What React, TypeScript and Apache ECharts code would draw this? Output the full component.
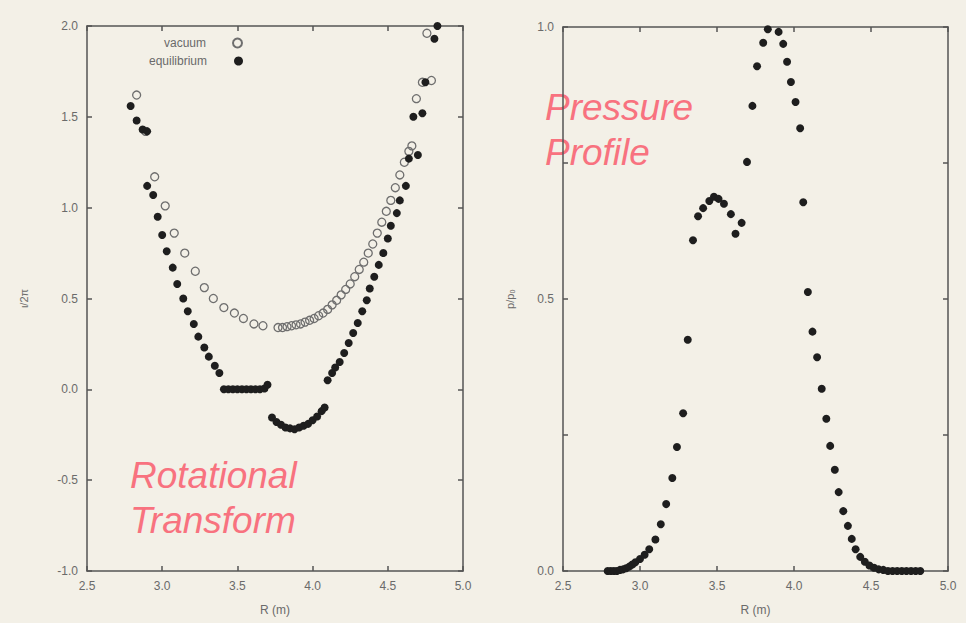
import React, { useEffect, useRef } from "react";
import * as echarts from "echarts";

// ---- data ----
const xTicksR = [2.5, 3.0, 3.5, 4.0, 4.5, 5.0];

const vacuumPoints: number[][] = [
  [2.83, 1.62], [2.89, 1.42], [2.95, 1.17], [3.02, 1.01], [3.08, 0.86], [3.15, 0.75],
  [3.22, 0.65], [3.28, 0.56], [3.34, 0.5], [3.41, 0.45], [3.48, 0.42], [3.54, 0.39],
  [3.61, 0.36], [3.67, 0.35],
  [3.77, 0.34], [3.8, 0.34], [3.83, 0.345], [3.86, 0.35], [3.89, 0.355], [3.92, 0.36],
  [3.95, 0.37], [3.98, 0.38], [4.01, 0.39], [4.04, 0.405], [4.07, 0.42], [4.1, 0.44],
  [4.13, 0.465], [4.16, 0.49], [4.19, 0.52], [4.22, 0.55], [4.25, 0.58], [4.28, 0.62],
  [4.31, 0.66], [4.34, 0.7], [4.37, 0.75], [4.4, 0.8], [4.43, 0.86], [4.46, 0.92],
  [4.49, 0.98], [4.52, 1.04], [4.55, 1.11], [4.58, 1.18], [4.61, 1.25], [4.64, 1.31],
  [4.66, 1.34], [4.69, 1.6], [4.73, 1.69], [4.79, 1.7], [4.76, 1.96],
];

const equilibriumPoints: number[][] = [
  [2.79, 1.56], [2.83, 1.48], [2.87, 1.43], [2.9, 1.42], [2.9, 1.12], [2.94, 1.07],
  [2.97, 0.95], [3.0, 0.85], [3.03, 0.76], [3.07, 0.67], [3.1, 0.58], [3.14, 0.5],
  [3.17, 0.43], [3.21, 0.36], [3.24, 0.29], [3.28, 0.23], [3.31, 0.18], [3.35, 0.13],
  [3.38, 0.09],
  [3.41, 0], [3.44, 0], [3.47, 0], [3.5, 0], [3.53, 0], [3.56, 0], [3.59, 0], [3.62, 0],
  [3.65, 0], [3.68, 0.005], [3.7, 0.025],
  [3.73, -0.155], [3.76, -0.18], [3.79, -0.195], [3.82, -0.21], [3.85, -0.215],
  [3.88, -0.22], [3.91, -0.21], [3.94, -0.2], [3.97, -0.19], [4.0, -0.17], [4.03, -0.15],
  [4.06, -0.12], [4.08, -0.1],
  [4.1, 0.05], [4.13, 0.09], [4.15, 0.12], [4.18, 0.15], [4.21, 0.2], [4.24, 0.255],
  [4.27, 0.31], [4.3, 0.365], [4.33, 0.43], [4.36, 0.49], [4.38, 0.555], [4.41, 0.62],
  [4.44, 0.685], [4.47, 0.75], [4.5, 0.83], [4.52, 0.9], [4.56, 0.97], [4.58, 1.04],
  [4.62, 1.12], [4.64, 1.27], [4.7, 1.29], [4.67, 1.5], [4.73, 1.52], [4.75, 1.69],
  [4.81, 1.93], [4.83, 2.0],
];

const pressurePoints: number[][] = [
  [2.79, 0], [2.81, 0], [2.83, 0], [2.85, 0], [2.87, 0.002], [2.89, 0.003], [2.91, 0.005],
  [2.93, 0.008], [2.95, 0.012], [2.97, 0.016], [3.0, 0.022], [3.03, 0.03], [3.06, 0.04],
  [3.1, 0.058], [3.135, 0.086], [3.17, 0.123], [3.21, 0.171], [3.24, 0.228], [3.28, 0.29],
  [3.31, 0.425], [3.344, 0.608], [3.377, 0.652], [3.41, 0.667], [3.45, 0.68], [3.48, 0.688],
  [3.51, 0.684], [3.545, 0.675], [3.59, 0.656], [3.62, 0.62], [3.66, 0.64], [3.695, 0.752],
  [3.73, 0.855], [3.76, 0.928], [3.8, 0.971], [3.83, 0.996], [3.9, 0.991], [3.93, 0.969],
  [3.955, 0.936], [3.98, 0.899], [4.01, 0.862], [4.04, 0.814], [4.06, 0.678], [4.09, 0.513],
  [4.12, 0.44], [4.15, 0.393], [4.18, 0.335], [4.21, 0.28], [4.235, 0.23], [4.265, 0.186],
  [4.29, 0.145], [4.32, 0.11], [4.35, 0.083], [4.375, 0.059], [4.4, 0.04], [4.43, 0.026],
  [4.46, 0.017], [4.49, 0.01], [4.52, 0.006], [4.55, 0.003], [4.58, 0.002], [4.61, 0],
  [4.64, 0], [4.67, 0], [4.7, 0], [4.73, 0], [4.76, 0], [4.79, 0], [4.82, 0],
];

const yTicksIota = [-1.0, -0.5, 0.0, 0.5, 1.0, 1.5, 2.0];
const yLabelsPressure = [0.0, 0.5, 1.0];

const FONT = "'Liberation Sans', Arial, sans-serif";
const AXIS_COLOR = "#555";
const LABEL_COLOR = "#6a6a6a";
const PINK = "#f8727f";

function makeX(gridIndex: number, position: "bottom" | "top", showLabel: boolean) {
  return {
    type: "value",
    gridIndex,
    position,
    min: xTicksR[0],
    max: xTicksR[xTicksR.length - 1],
    interval: 0.5,
    name: showLabel ? "R (m)" : "",
    nameLocation: "middle",
    nameGap: 33,
    nameTextStyle: { color: LABEL_COLOR, fontSize: 12, fontFamily: FONT },
    axisLine: { show: true, onZero: false, lineStyle: { color: AXIS_COLOR, width: 1.5 } },
    axisTick: { show: true, inside: true, length: 5, lineStyle: { color: AXIS_COLOR, width: 1.5 } },
    axisLabel: {
      show: showLabel,
      color: LABEL_COLOR,
      fontSize: 12,
      fontFamily: FONT,
      margin: 9,
      formatter: (v: number) => v.toFixed(1),
    },
    splitLine: { show: false },
  };
}

function makeY(
  gridIndex: number,
  position: "left" | "right",
  showLabel: boolean,
  min: number,
  max: number,
  interval: number,
  name: string,
  nameGap: number,
  labelSet: number[]
) {
  return {
    type: "value",
    gridIndex,
    position,
    min,
    max,
    interval,
    name: showLabel ? name : "",
    nameLocation: "middle",
    nameGap,
    nameTextStyle: { color: LABEL_COLOR, fontSize: 11, fontFamily: FONT },
    axisLine: { show: true, onZero: false, lineStyle: { color: AXIS_COLOR, width: 1.5 } },
    axisTick: { show: true, inside: true, length: 5, lineStyle: { color: AXIS_COLOR, width: 1.5 } },
    axisLabel: {
      show: showLabel,
      color: LABEL_COLOR,
      fontSize: 12,
      fontFamily: FONT,
      margin: 9,
      formatter: (v: number) =>
        labelSet.some((l) => Math.abs(l - v) < 1e-6) ? v.toFixed(1) : "",
    },
    splitLine: { show: false },
  };
}

export default function App() {
  const ref = useRef<HTMLDivElement>(null);

  useEffect(() => {
    if (!ref.current) return;
    const chart = echarts.init(ref.current, undefined, { renderer: "svg" });
    const option: any = {
      animation: false,
      backgroundColor: "#f3f0e7",
      textStyle: { fontFamily: FONT },
      grid: [
        { left: 87, top: 26, width: 376, height: 545 },
        { left: 563, top: 27, width: 385, height: 544 },
      ],
      xAxis: [
        makeX(0, "bottom", true),
        makeX(0, "top", false),
        makeX(1, "bottom", true),
        makeX(1, "top", false),
      ],
      yAxis: [
        makeY(0, "left", true, -1, 2, 0.5, "ι/2π", 58, yTicksIota),
        makeY(0, "right", false, -1, 2, 0.5, "", 0, yTicksIota),
        makeY(1, "left", true, 0, 1, 0.25, "p/p₀", 48, yLabelsPressure),
        makeY(1, "right", false, 0, 1, 0.25, "", 0, yLabelsPressure),
      ],
      legend: [
        {
          data: ["vacuum"],
          right: 723,
          top: 37,
          padding: 0,
          align: "right",
          itemWidth: 9,
          itemHeight: 9,
          textStyle: { color: LABEL_COLOR, fontSize: 12, fontFamily: FONT, padding: [0, 22, 0, 0] },
        },
        {
          data: ["equilibrium"],
          right: 723,
          top: 55,
          padding: 0,
          align: "right",
          itemWidth: 9,
          itemHeight: 9,
          textStyle: { color: LABEL_COLOR, fontSize: 12, fontFamily: FONT, padding: [0, 22, 0, 0] },
        },
      ],
      series: [
        {
          name: "vacuum",
          type: "scatter",
          xAxisIndex: 0,
          yAxisIndex: 0,
          symbol: "circle",
          symbolSize: 8,
          itemStyle: { color: "rgba(243,240,231,0)", borderColor: "#6e6e6e", borderWidth: 1.3, opacity: 1 },
          data: vacuumPoints,
        },
        {
          name: "equilibrium",
          type: "scatter",
          xAxisIndex: 0,
          yAxisIndex: 0,
          symbol: "circle",
          symbolSize: 8,
          itemStyle: { color: "#1e1e1e", borderWidth: 0, opacity: 1 },
          data: equilibriumPoints,
        },
        {
          name: "pressure",
          type: "scatter",
          xAxisIndex: 2,
          yAxisIndex: 2,
          symbol: "circle",
          symbolSize: 8,
          itemStyle: { color: "#1e1e1e", borderWidth: 0, opacity: 1 },
          data: pressurePoints,
        },
      ],
      graphic: [
        { type: "text", left: 130, top: 457, style: { text: "Rotational", fill: PINK, font: `italic 37px ${FONT}` } },
        { type: "text", left: 130, top: 502, style: { text: "Transform", fill: PINK, font: `italic 37px ${FONT}` } },
        { type: "text", left: 545, top: 89, style: { text: "Pressure", fill: PINK, font: `italic 37px ${FONT}` } },
        { type: "text", left: 545, top: 134, style: { text: "Profile", fill: PINK, font: `italic 37px ${FONT}` } },
      ],
    };
    chart.setOption(option);
    return () => chart.dispose();
  }, []);

  return (
    <div
      ref={ref}
      style={{ position: "fixed", left: 0, top: 0, width: 966, height: 623 }}
    />
  );
}
